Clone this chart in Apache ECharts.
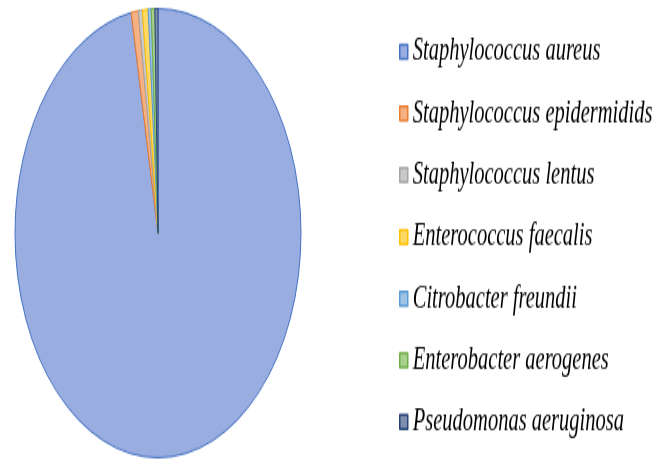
<!DOCTYPE html>
<html>
<head>
<meta charset="utf-8">
<script src="https://cdn.jsdelivr.net/npm/echarts@6/dist/echarts.min.js"></script>
<style>
  html, body { margin: 0; padding: 0; background: #fff; overflow: hidden; }
  #wrap { width: 656px; height: 460px; overflow: hidden; }
  /* chart is laid out flat and stretched vertically, giving the tall oval pie */
  #chart { width: 656px; height: 293px; transform: scaleY(1.57); transform-origin: 0 0; }
</style>
</head>
<body>
<div id="wrap"><div id="chart"></div></div>
<script>
// Isolates, share of total (%)
const species = [
  'Staphylococcus aureus',
  'Staphylococcus epidermidids',
  'Staphylococcus lentus',
  'Enterococcus faecalis',
  'Citrobacter freundii',
  'Enterobacter aerogenes',
  'Pseudomonas aeruginosa'
];
const shares = [97.0, 0.8, 0.45, 0.65, 0.35, 0.4, 0.35];
const fills   = ['#9AADE0', '#F4B183', '#C9C9C9', '#FFD966', '#9DC3E6', '#A9D18E', '#7F8FB0'];
const borders = ['#4472C4', '#ED7D31', '#A5A5A5', '#FFC000', '#5B9BD5', '#70AD47', '#264478'];

const chart = echarts.init(document.getElementById('chart'), null, { renderer: 'canvas' });
chart.setOption({
  animation: false,
  backgroundColor: '#fff',
  legend: {
    orient: 'vertical',
    left: 394,
    top: 18,
    height: 275,
    itemWidth: 8,
    itemHeight: 9,
    itemGap: 19.3,
    icon: 'rect',
    itemStyle: { borderWidth: 1.5 },
    textStyle: {
      fontFamily: 'Liberation Serif',
      fontStyle: 'italic',
      fontSize: 20.5,
      lineHeight: 20,
      color: '#000'
    },
    data: species
  },
  series: [{
    type: 'pie',
    center: [158, 148.5],
    radius: [0, 143],
    startAngle: 90,
    clockwise: true,
    label: { show: false },
    labelLine: { show: false },
    emphasis: { disabled: true },
    data: species.map((name, i) => ({
      name: name,
      value: shares[i],
      itemStyle: { color: fills[i], borderColor: borders[i], borderWidth: 1 }
    }))
  }]
});
</script>
</body>
</html>
